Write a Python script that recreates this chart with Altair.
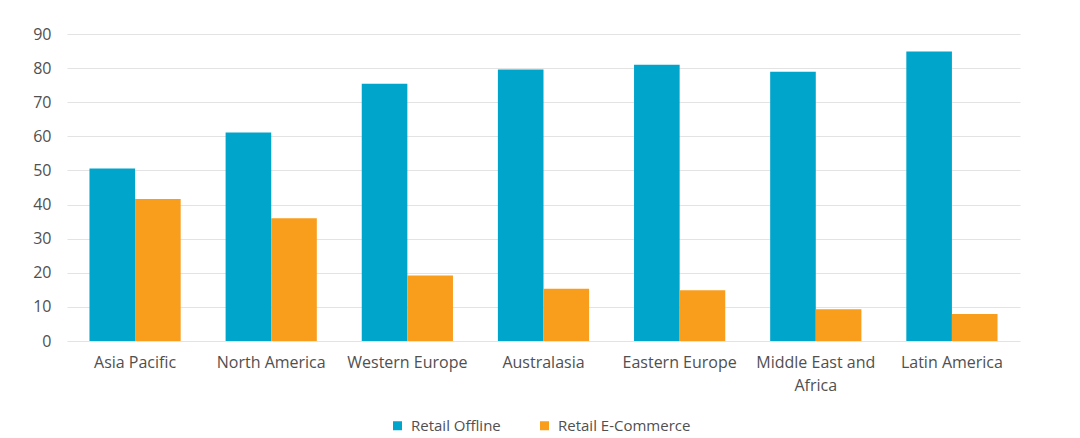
import altair as alt
import pandas as pd

regions = ["Asia Pacific", "North America", "Western Europe", "Australasia",
           "Eastern Europe", "Middle East and Africa", "Latin America"]
offline = [50.6, 61.1, 75.4, 79.6, 81.0, 78.9, 84.9]
ecommerce = [41.6, 36.0, 19.2, 15.3, 14.9, 9.3, 7.9]
series = ["Retail Offline", "Retail E-Commerce"]
colors = ["#00A5CC", "#F99D1C"]

rows = []
for r, a, b in zip(regions, offline, ecommerce):
    rows.append({"region": r, "series": series[0], "value": a})
    rows.append({"region": r, "series": series[1], "value": b})
df = pd.DataFrame(rows)

FONT = "Open Sans"
GREY = "#505050"

chart = alt.Chart(df).mark_bar().encode(
    x=alt.X("region:N", sort=regions,
            scale=alt.Scale(paddingInner=0.33, paddingOuter=0.165),
            axis=alt.Axis(title=None, labelAngle=0, domain=False, ticks=False,
                          labelPadding=13, labelFontSize=16, labelColor=GREY,
                          labelFont=FONT, labelLimit=300, labelLineHeight=23,
                          labelExpr="length(datum.label) > 16 ? [slice(datum.label, 0, lastindexof(datum.label, ' ')), slice(datum.label, lastindexof(datum.label, ' ') + 1)] : datum.label")),
    xOffset=alt.XOffset("series:N", sort=series),
    y=alt.Y("value:Q", scale=alt.Scale(domain=[0, 90], nice=False),
            axis=alt.Axis(title=None, values=list(range(0, 100, 10)), domain=False,
                          ticks=False, labelPadding=16, labelFontSize=16,
                          labelColor=GREY, labelFont=FONT, gridColor="#E3E3E3",
                          gridWidth=1)),
    color=alt.Color("series:N", sort=series,
                    scale=alt.Scale(domain=series, range=colors),
                    legend=alt.Legend(title=None, orient="none", direction="horizontal",
                                      legendX=323, legendY=384, symbolType="square",
                                      symbolSize=81, symbolStrokeWidth=0,
                                      labelFontSize=15, labelColor=GREY, labelFont=FONT,
                                      columnPadding=36, labelOffset=6)),
).properties(
    width=953, height=307,
    padding={"left": 59, "top": 26, "right": 52, "bottom": 94},
    autosize=alt.AutoSizeParams(type="none"),
).configure_view(stroke=None)

chart.save("out.html", embed_options={"renderer": "svg", "actions": False})
